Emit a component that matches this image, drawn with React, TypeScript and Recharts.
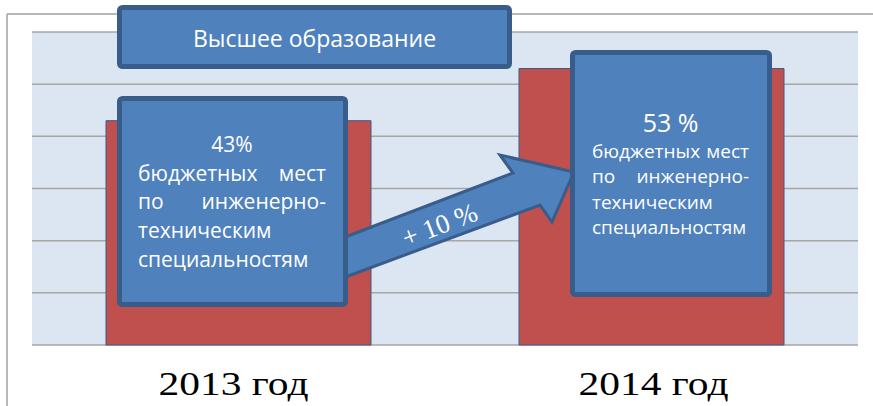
import { BarChart, Bar, XAxis, YAxis, CartesianGrid } from "recharts";

const categories = ["2013 год", "2014 год"];
const shares = [43, 53];
const yTicks = [0, 10, 20, 30, 40, 50, 60];

const title = "Высшее образование";
const note2013 = ["43%", "бюджетных", "мест", "по", "инженерно-", "техническим", "специальностям"];
const note2014 = ["53 %", "бюджетных", "мест", "по", "инженерно-", "техническим", "специальностям"];
const growth = "+ 10 %";

const data = categories.map((year, i) => ({ year, value: shares[i] }));

const BLUE = "#4F81BD";
const EDGE = "#385D8A";
const sans = "'Open Sans', 'Noto Sans', sans-serif";
const serif = "'Liberation Serif', 'Times New Roman', serif";

function YearTick(props: any) {
  const { x, y, payload, index } = props;
  return (
    <text
      x={x + (index === 0 ? -5 : 2)}
      y={y + 42}
      textAnchor="middle"
      fontFamily={serif}
      fontSize={33}
      fill="#000"
      textLength={150}
      lengthAdjust="spacingAndGlyphs"
    >
      {payload.value}
    </text>
  );
}

function Box({ x, y, w, h }: { x: number; y: number; w: number; h: number }) {
  const sw = 5;
  return (
    <rect
      x={x + sw / 2}
      y={y + sw / 2}
      width={w - sw}
      height={h - sw}
      rx={3}
      fill={BLUE}
      stroke={EDGE}
      strokeWidth={sw}
    />
  );
}

function Note({ lines, left, right, top, step, big, small }: any) {
  const cx = (left + right) / 2;
  const t = { fill: "#fff", fontFamily: sans };
  return (
    <g>
      <text x={cx} y={top} textAnchor="middle" fontSize={big} {...t}>{lines[0]}</text>
      <text x={left} y={top + step} fontSize={small} {...t}>{lines[1]}</text>
      <text x={right} y={top + step} textAnchor="end" fontSize={small} {...t}>{lines[2]}</text>
      <text x={left} y={top + step * 2} fontSize={small} {...t}>{lines[3]}</text>
      <text x={right} y={top + step * 2} textAnchor="end" fontSize={small} {...t}>{lines[4]}</text>
      <text x={left} y={top + step * 3} fontSize={small} {...t}>{lines[5]}</text>
      <text x={left} y={top + step * 4} fontSize={small} {...t}>{lines[6]}</text>
    </g>
  );
}

export default function App() {
  return (
    <div style={{ position: "absolute", left: 0, top: 0, width: 873, height: 406, background: "#fff", overflow: "hidden" }}>
      <BarChart width={873} height={406} data={data} margin={{ top: 32, right: 15, bottom: 0, left: 32 }}>
        <CartesianGrid vertical={false} fill="#DCE6F2" stroke="#A6A6A6" strokeWidth={1.5} />
        <YAxis hide domain={[0, 60]} ticks={yTicks} />
        <XAxis dataKey="year" height={61} axisLine={false} tickLine={false} tick={<YearTick />} interval={0} />
        <Bar dataKey="value" barSize={265} fill="#C0504D" stroke={EDGE} strokeWidth={1} isAnimationActive={false} />
      </BarChart>
      <svg width={873} height={406} style={{ position: "absolute", left: 0, top: 0, pointerEvents: "none" }}>
        <line x1={7} y1={14} x2={873} y2={14} stroke="#A0A0A0" strokeWidth={1.5} />
        <line x1={7} y1={14} x2={7} y2={406} stroke="#A0A0A0" strokeWidth={1.5} />

        <Box x={117} y={5} w={395} h={64} />
        <text x={314.5} y={47} textAnchor="middle" fontFamily={sans} fontSize={23} fill="#fff">{title}</text>

        <polygon
          points="340,239 513,173 500,155 574,172 552,222 540,205 340,279"
          fill={BLUE}
          stroke={EDGE}
          strokeWidth={3}
          strokeLinejoin="miter"
        />
        <text
          x={440}
          y={234}
          textAnchor="middle"
          fontFamily={serif}
          fontSize={27}
          fill="#fff"
          transform="rotate(-21 440 226)"
        >
          {growth}
        </text>

        <Box x={117} y={96} w={231} h={211} />
        <Note lines={note2013} left={138} right={326} top={152} step={28.7} big={21} small={21} />

        <Box x={570} y={50} w={202} h={247} />
        <Note lines={note2014} left={592} right={749} top={132} step={25.5} big={25} small={19} />
      </svg>
    </div>
  );
}
